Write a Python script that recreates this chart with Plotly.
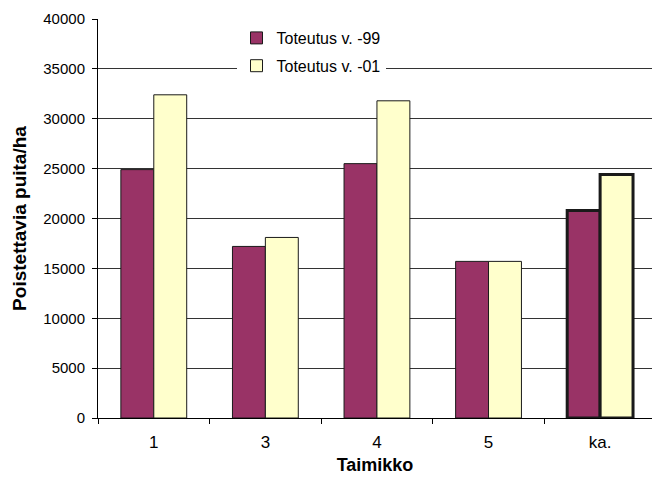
import plotly.graph_objects as go

# Stands (taimikko) and the average column
categories = ["1", "3", "4", "5", "ka."]
# Trees to remove per hectare
toteutus_99 = [24900, 17200, 25500, 15700, 20800]
toteutus_01 = [32400, 18100, 31800, 15700, 24400]

y_ticks = [0, 5000, 10000, 15000, 20000, 25000, 30000, 35000, 40000]
y_tick_text = [str(v) for v in y_ticks]

# The average column gets a heavier outline
outline_widths = [1, 1, 1, 1, 3]

fig = go.Figure()
fig.add_trace(go.Bar(
    x=categories, y=toteutus_99, name="Toteutus v. -99",
    marker=dict(color="#993366", line=dict(color="#1a1a1a", width=outline_widths)),
    legendgroup="a",
))
fig.add_trace(go.Bar(
    x=categories, y=toteutus_01, name="Toteutus v. -01",
    marker=dict(color="#FFFFCC", line=dict(color="#1a1a1a", width=outline_widths)),
    legendgroup="b",
))

font_family = "Liberation Sans, Arial, sans-serif"

fig.update_layout(
    width=652, height=477,
    margin=dict(l=98, r=0, t=19, b=59),
    paper_bgcolor="white", plot_bgcolor="white",
    barmode="group", bargap=0.41, bargroupgap=0,
    font=dict(family=font_family, size=15, color="black"),
    showlegend=True,
    legend=dict(
        x=0.25, y=0.995, xanchor="left", yanchor="top",
        bgcolor="white", borderwidth=0,
        font=dict(size=16, family=font_family),
        traceorder="grouped", tracegroupgap=4,
        itemwidth=30,
    ),
    xaxis=dict(
        type="category", range=[-0.5, 4.465],
        showline=True, linecolor="black", linewidth=1,
        ticks="outside", tickson="boundaries", ticklen=5, tickcolor="black",
        tickfont=dict(size=17), ticklabelstandoff=9,
        title=dict(text="<b>Taimikko</b>", font=dict(size=18), standoff=6),
        showgrid=False,
    ),
    yaxis=dict(
        range=[0, 40000], tickvals=y_ticks, ticktext=y_tick_text,
        showline=True, linecolor="black", linewidth=1,
        ticks="outside", ticklen=5, tickcolor="black",
        tickfont=dict(size=15), ticklabelstandoff=4,
        showgrid=True, gridcolor="#333333", gridwidth=1,
        zeroline=False,
        title=dict(text="<b>Poistettavia puita/ha</b>", font=dict(size=19), standoff=11),
    ),
)

fig.write_html("out.html")
